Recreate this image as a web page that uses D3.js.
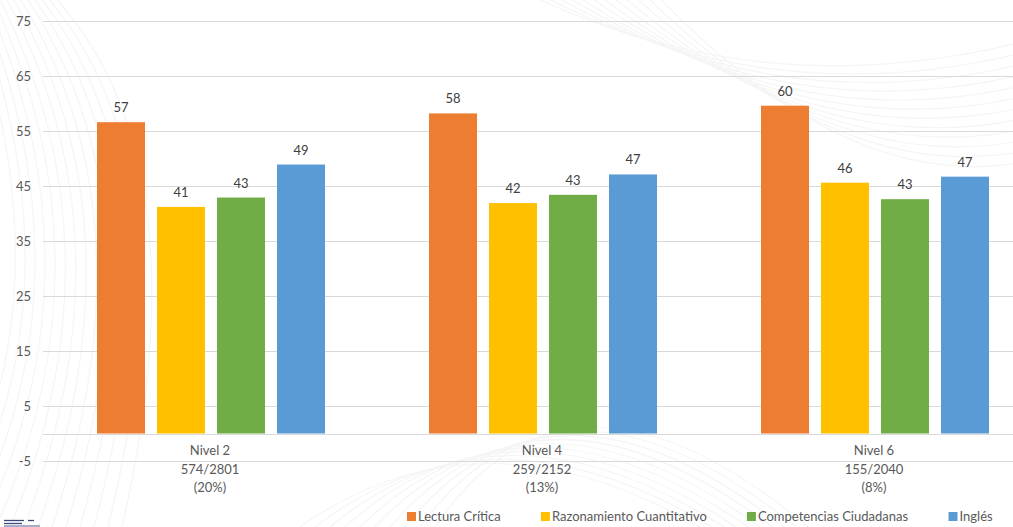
<!DOCTYPE html>
<html>
<head>
<meta charset="utf-8">
<script src="https://cdn.jsdelivr.net/npm/d3@7/dist/d3.min.js"></script>
<style>
  html, body { margin: 0; padding: 0; background: #ffffff; }
  svg { display: block; }
  text { font-family: Lato, "Open Sans", "Liberation Sans", sans-serif; }
</style>
</head>
<body>
<svg id="chart" width="1013" height="527"></svg>
<script>
// ---- data ----
const categories = ["Nivel 2", "Nivel 4", "Nivel 6"];
const categorySub1 = ["574/2801", "259/2152", "155/2040"];
const categorySub2 = ["(20%)", "(13%)", "(8%)"];
const seriesNames = ["Lectura Crítica", "Razonamiento Cuantitativo", "Competencias Ciudadanas", "Inglés"];
const lecturaCritica = [56.6, 58.2, 59.6];
const razonamiento = [41.2, 41.9, 45.6];
const competencias = [42.9, 43.4, 42.6];
const ingles = [48.9, 47.1, 46.7];
const yTicks = [-5, 5, 15, 25, 35, 45, 55, 65, 75];
const colors = ["#ED7D31", "#FFC000", "#70AD47", "#5B9BD5"];

const seriesValues = [lecturaCritica, razonamiento, competencias, ingles];

const svg = d3.select("#chart");
const W = 1013, H = 527;

// faint background watermark-ish arcs
const bg = svg.append("g").attr("fill", "none").attr("stroke", "#f5f5f5").attr("stroke-width", 1.2);
for (let i = 0; i < 14; i++) {
  bg.append("path").attr("d", `M ${-60 + i*14} 527 Q ${80 + i*10} ${300 - i*12} ${-40 + i*6} ${-20}`);
}
for (let i = 0; i < 12; i++) {
  bg.append("path").attr("d", `M ${520 + i*12} ${-10} Q ${760 + i*8} ${110 + i*8} ${1030} ${40 + i*11}`);
}
for (let i = 0; i < 10; i++) {
  bg.append("path").attr("d", `M ${300 + i*15} 527 Q ${480 + i*10} ${400 - i*8} ${700 + i*12} 527`);
}

const y = d3.scaleLinear().domain([-5, 75]).range([461, 21]);
const x0 = d3.scaleBand().domain(categories).range([45, 1041]).paddingInner(0).paddingOuter(0);
const x1 = d3.scaleBand().domain(seriesNames).range([0, 240]).paddingInner(0.2).paddingOuter(0.1);
const groupOffset = (x0.bandwidth() - 240) / 2;

// gridlines
const grid = svg.append("g");
grid.selectAll("line").data(yTicks).join("line")
  .attr("x1", 43).attr("x2", W)
  .attr("y1", d => Math.round(y(d)) + 0.5).attr("y2", d => Math.round(y(d)) + 0.5)
  .attr("stroke", "#d9d9d9").attr("stroke-width", 1);

// y tick labels
const yAxis = d3.axisLeft(y).tickValues(yTicks).tickSize(0).tickPadding(0).tickFormat(d => String(d));
const ya = svg.append("g").attr("transform", "translate(31,0)").call(yAxis);
ya.select(".domain").remove();
ya.selectAll("text").attr("fill", "#595959").style("font-size", "13px")
  .style("font-family", "Lato, 'Open Sans', sans-serif");

// bars
const groups = svg.append("g").selectAll("g").data(categories).join("g")
  .attr("transform", d => `translate(${x0(d) + groupOffset},0)`);

groups.each(function(cat, ci) {
  const g = d3.select(this);
  const vals = seriesNames.map((s, si) => ({ s, si, v: seriesValues[si][ci] }));
  g.selectAll("rect").data(vals).join("rect")
    .attr("x", d => x1(d.s))
    .attr("width", x1.bandwidth())
    .attr("y", d => y(d.v))
    .attr("height", d => y(0) - y(d.v))
    .attr("fill", d => colors[d.si]);
  g.selectAll("text.lbl").data(vals).join("text").attr("class", "lbl")
    .attr("x", d => x1(d.s) + x1.bandwidth() / 2)
    .attr("y", d => y(d.v) - 10)
    .attr("text-anchor", "middle")
    .attr("fill", "#404040")
    .style("font-size", "13px")
    .text(d => d3.format(".0f")(d.v));
});

// x axis baseline at 0
svg.append("line")
  .attr("x1", 43).attr("x2", W)
  .attr("y1", Math.round(y(0)) + 0.5).attr("y2", Math.round(y(0)) + 0.5)
  .attr("stroke", "#d9d9d9");

// category labels
const cxOf = d => x0(d) + x0.bandwidth() / 2 - 1;
const xl = svg.append("g").selectAll("text").data(categories).join("text")
  .attr("text-anchor", "middle")
  .attr("fill", "#595959")
  .style("font-size", "13px")
  .attr("x", cxOf)
  .attr("y", 455);
xl.append("tspan").attr("x", cxOf).attr("dy", 0).text(d => d);
xl.append("tspan").attr("x", cxOf).attr("dy", 18.5).text((d, i) => categorySub1[i]);
xl.append("tspan").attr("x", cxOf).attr("dy", 18.5).text((d, i) => categorySub2[i]);

// legend
const legend = svg.append("g");
const items = legend.selectAll("g").data(seriesNames).join("g");
items.append("rect").attr("width", 9).attr("height", 9).attr("y", 512)
  .attr("fill", (d, i) => colors[i]);
items.append("text").attr("x", 11).attr("y", 521)
  .attr("fill", "#595959").style("font-size", "13px").text(d => d);
const widths = [];
items.each(function() { widths.push(this.getBBox().width); });
const legendStart = 407, legendEnd = 993;
const gap = (legendEnd - legendStart - d3.sum(widths)) / (widths.length - 1);
let cx = legendStart;
items.attr("transform", (d, i) => {
  const t = `translate(${cx},0)`;
  cx += widths[i] + gap;
  return t;
});

// small logo mark bottom-left
const logo = svg.append("g").attr("stroke", "#3a4a7a").attr("stroke-width", 1.3);
logo.append("line").attr("x1", 4).attr("x2", 24).attr("y1", 520.5).attr("y2", 520.5);
logo.append("line").attr("x1", 4).attr("x2", 22).attr("y1", 523.5).attr("y2", 523.5);
logo.append("line").attr("x1", 28).attr("x2", 34).attr("y1", 520.5).attr("y2", 520.5);
logo.append("line").attr("x1", 4).attr("x2", 40).attr("y1", 526).attr("y2", 526).attr("stroke", "#8a95b5");
</script>
</body>
</html>
